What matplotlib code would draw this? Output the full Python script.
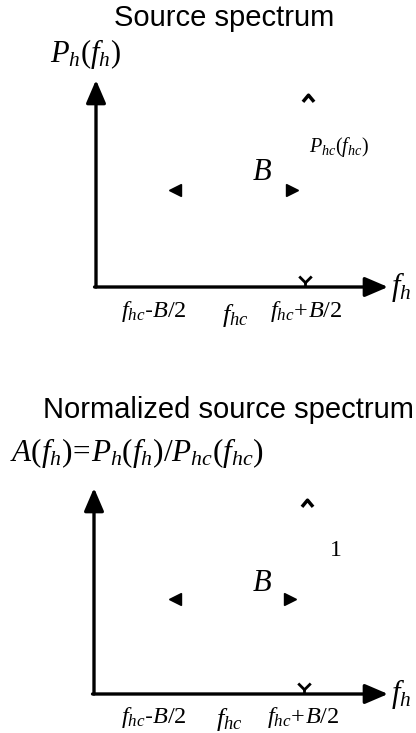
import matplotlib
matplotlib.use("Agg")
import matplotlib.pyplot as plt
from matplotlib.path import Path

plt.rcParams['mathtext.fontset'] = 'custom'
plt.rcParams['mathtext.rm'] = 'Liberation Serif'
plt.rcParams['mathtext.it'] = 'Liberation Serif:italic'
plt.rcParams['font.family'] = ['Liberation Sans', 'DejaVu Sans']

# ---- content (positions in axis units: 0..1 along each drawn axis) ----
titles = ["Source spectrum", "Normalized source spectrum"]
y_labels = [r"$P_h(f_h)$", r"$A(f_h)\!=\!P_h(f_h)/P_{hc}(f_{hc})$"]
x_label = r"$f_h$"
tick_texts = [r"$f_{hc}$-$B/2$", r"$f_{hc}$", r"$f_{hc}\!+\!B/2$"]
tick_x_top = [0.20, 0.476, 0.72]
tick_x_bot = [0.204, 0.459, 0.711]
tick_y_side = [-0.118, -0.115]
tick_y_mid = [-0.14, -0.125]
peak_labels = [r"$P_{hc}(f_{hc})$", r"$1$"]
peak_x = [0.726, 0.724]
peak_y = [0.913, 0.927]
peak_label_x = [0.73, 0.80]
peak_label_y = [0.675, 0.70]
band_left_x = [0.27, 0.276]
band_right_x = [0.671, 0.667]
band_y = [0.468, 0.46]
bw_label_x = [0.568, 0.571]
bw_label_y = [0.556, 0.539]
edge_x = [0.716, 0.714]

# panel placement in figure pixels (axis corner and arrow tips)
W, H = 416, 733
panels = [dict(x0=96, y0=287, x1=388, y1=80),
          dict(x0=94, y0=694, x1=388, y1=488)]

fig = plt.figure(figsize=(W / 100, H / 100), dpi=100)

caret = Path([(-1, -0.6), (0, 0.6), (1, -0.6)],
             [Path.MOVETO, Path.LINETO, Path.LINETO])
vmark = Path([(-1, 0.8), (0, -0.2), (1, 0.8), (0, -0.2), (0, -1.0)],
             [Path.MOVETO, Path.LINETO, Path.LINETO, Path.MOVETO, Path.LINETO])

for i, p in enumerate(panels):
    ax = fig.add_axes([p['x0'] / W, 1 - p['y0'] / H,
                       (p['x1'] - p['x0']) / W, (p['y0'] - p['y1']) / H])
    ax.set_xlim(0, 1)
    ax.set_ylim(0, 1)
    ax.axis('off')
    arrow = dict(arrowstyle='-|>,head_length=0.7,head_width=0.3',
                 mutation_scale=20, lw=2.4, color='black',
                 shrinkA=0, shrinkB=0)
    ax.annotate('', xy=(0, 1), xytext=(0, 0), arrowprops=arrow,
                annotation_clip=False)
    ax.annotate('', xy=(1, 0), xytext=(-0.005, 0), arrowprops=arrow,
                annotation_clip=False)

    # peak caret and label
    ax.plot([peak_x[i]], [peak_y[i]], marker=caret, ms=8, mfc='none',
            mec='black', mew=2.5, clip_on=False)
    ax.text(peak_label_x[i], peak_label_y[i], peak_labels[i],
            fontsize=14.5 if i == 0 else 17, ha='left', va='center')

    # bandwidth markers
    ax.plot([band_left_x[i]], [band_y[i]], marker='<', ms=8, color='black',
            clip_on=False)
    ax.plot([band_right_x[i]], [band_y[i]], marker='>', ms=8, color='black',
            clip_on=False)
    ax.text(bw_label_x[i], bw_label_y[i], r"$B$", fontsize=22,
            ha='center', va='center')

    # edge mark on axis
    ax.plot([edge_x[i]], [0.03], marker=vmark, ms=9, mfc='none',
            mec='black', mew=2.0, clip_on=False)

    # tick texts
    tx = tick_x_top if i == 0 else tick_x_bot
    for j, (x, t) in enumerate(zip(tx, tick_texts)):
        if j == 1:
            ax.text(x, tick_y_mid[i], t, fontsize=19, ha='center', va='center')
        else:
            ax.text(x, tick_y_side[i], t, fontsize=17.5, ha='center', va='center')

    # axis label
    ax.text(1.01, 0.0, x_label, fontsize=22, ha='left', va='center')

# titles and y labels (figure pixel placement)
fig.text(224 / W, 1 - 18 / H, titles[0], fontsize=21, ha='center', va='center')
fig.text(228 / W, 1 - 410 / H, titles[1], fontsize=21, ha='center', va='center')
fig.text(50 / W, 1 - 62 / H, y_labels[0], fontsize=22, ha='left', va='baseline')
fig.text(10 / W, 1 - 461 / H, y_labels[1], fontsize=22.5, ha='left', va='baseline')

fig.savefig("out.png", dpi=100)
